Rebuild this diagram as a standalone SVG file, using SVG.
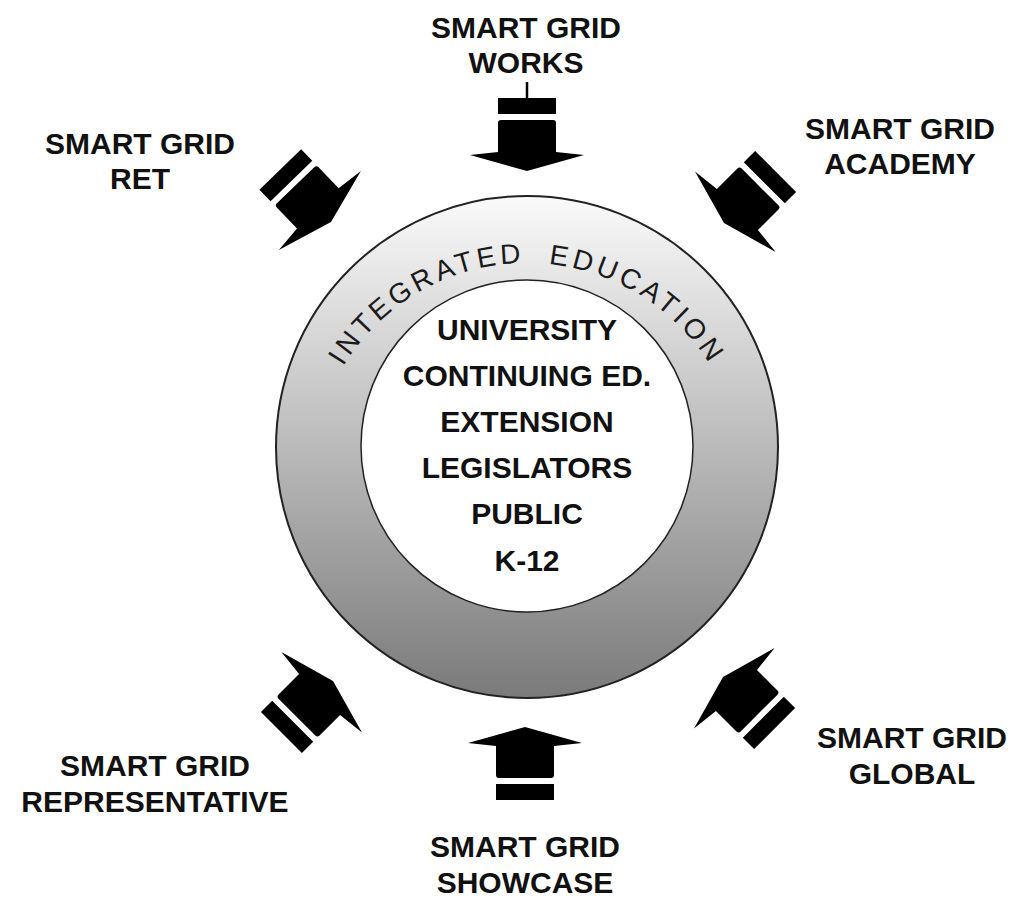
<svg xmlns="http://www.w3.org/2000/svg" xmlns:xlink="http://www.w3.org/1999/xlink" width="1013" height="897" viewBox="0 0 1013 897">
<style>
.lbl{font-family:"Liberation Sans",Arial,sans-serif;font-weight:bold;font-size:30px;fill:#111;text-anchor:middle}
.inner{font-family:"Liberation Sans",Arial,sans-serif;font-weight:bold;font-size:30px;fill:#111;text-anchor:middle}
.arc{font-family:"Liberation Sans",Arial,sans-serif;font-size:28px;fill:#1a1a1a;letter-spacing:4px}
.arr{fill:#000}
</style>
<defs>
<linearGradient id="ringGrad" x1="0" y1="0" x2="0" y2="1">
<stop offset="0" stop-color="#fafafa"/>
<stop offset="1" stop-color="#7a7a7a"/>
</linearGradient>
<g id="arrowShape">
<path d="M0,0 L-57,-16 L-29,-19 L-29,-48 Q-29,-51 -26,-51 L26,-51 Q29,-51 29,-48 L29,-19 L57,-16 Z"/>
<rect x="-29" y="-73" width="58" height="16"/>
</g>
<path id="textArc" d="M312,478 A215,215 0 0 1 742,478"/>
</defs>
<rect width="1013" height="897" fill="#fff"/>
<g id="integrated-education">
<circle cx="527" cy="447" r="251" fill="url(#ringGrad)" stroke="#222" stroke-width="2"/>
<circle cx="527" cy="446" r="166" fill="#fff" stroke="#222" stroke-width="1.5"/>
<text class="arc" xml:space="preserve"><textPath href="#textArc" xlink:href="#textArc" startOffset="50%" text-anchor="middle">INTEGRATED  EDUCATION</textPath></text>
<text class="inner" x="527" y="340">UNIVERSITY</text>
<text class="inner" x="527" y="386">CONTINUING ED.</text>
<text class="inner" x="527" y="432">EXTENSION</text>
<text class="inner" x="527" y="478">LEGISLATORS</text>
<text class="inner" x="527" y="524">PUBLIC</text>
<text class="inner" x="527" y="571">K-12</text>
</g>
<g id="connectors" class="arr">
<line x1="527" y1="82" x2="527" y2="99" stroke="#000" stroke-width="2.5"/>
<use href="#arrowShape" xlink:href="#arrowShape" transform="translate(527,171)"/>
<use href="#arrowShape" xlink:href="#arrowShape" transform="translate(525,727) rotate(180)"/>
<use href="#arrowShape" xlink:href="#arrowShape" transform="translate(331,222) rotate(-44)"/>
<use href="#arrowShape" xlink:href="#arrowShape" transform="translate(724,223) rotate(45)"/>
<use href="#arrowShape" xlink:href="#arrowShape" transform="translate(723,677) rotate(135)"/>
<use href="#arrowShape" xlink:href="#arrowShape" transform="translate(333,681) rotate(-135)"/>
</g>
<g id="works">
<text class="lbl" x="526" y="38">SMART GRID</text>
<text class="lbl" x="526" y="73">WORKS</text>
</g>
<g id="ret">
<text class="lbl" x="140" y="154">SMART GRID</text>
<text class="lbl" x="140" y="189">RET</text>
</g>
<g id="academy">
<text class="lbl" x="900" y="139">SMART GRID</text>
<text class="lbl" x="900" y="174">ACADEMY</text>
</g>
<g id="representative">
<text class="lbl" x="155" y="776">SMART GRID</text>
<text class="lbl" x="155" y="812">REPRESENTATIVE</text>
</g>
<g id="global">
<text class="lbl" x="912" y="748">SMART GRID</text>
<text class="lbl" x="912" y="784">GLOBAL</text>
</g>
<g id="showcase">
<text class="lbl" x="525" y="857">SMART GRID</text>
<text class="lbl" x="525" y="893">SHOWCASE</text>
</g>
</svg>
